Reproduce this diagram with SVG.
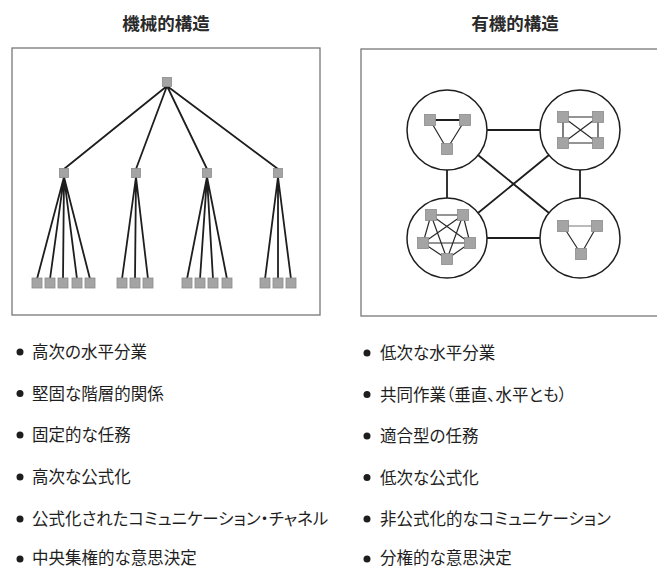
<svg xmlns="http://www.w3.org/2000/svg" width="657" height="569" viewBox="0 0 657 569">
<style>
.t{font-family:"Noto Sans CJK JP","Noto Sans CJK SC",sans-serif;fill:#1e1e1e}
.title{font-size:17.5px;text-anchor:middle;font-weight:bold;fill:#2a2a2a}
.item{font-size:16.5px;font-feature-settings:"palt"}
.frame{fill:none;stroke:#777;stroke-width:1.3}
.ln{stroke:#1e1e1e;stroke-width:1.8;fill:none}
.thin{stroke:#2a2a2a;stroke-width:1.2;fill:none}
.sq{fill:#a4a4a4;stroke:#8c8c8c;stroke-width:0.8}
.cir{fill:none;stroke:#1e1e1e;stroke-width:1.5}
.dot{fill:#1e1e1e}
</style>
<rect width="657" height="569" fill="#fff"/>

<text class="t title" x="166" y="29.5">機械的構造</text>
<text class="t title" x="515" y="29.5">有機的構造</text>

<rect class="frame" x="12" y="48" width="308" height="267"/>
<rect class="frame" x="361" y="49" width="300" height="267"/>

<g id="connectors">
  <!-- mechanistic tree -->
  <path class="ln" d="M167,86 L64,169 M167,86 L136,169 M167,86 L207,169 M167,86 L278,169"/>
  <path class="ln" d="M64,177 L37,279 M64,177 L50,279 M64,177 L63,279 M64,177 L77,279 M64,177 L90,279"/>
  <path class="ln" d="M136,177 L122,279 M136,177 L135,279 M136,177 L148,279"/>
  <path class="ln" d="M207,177 L187,279 M207,177 L200,279 M207,177 L213,279 M207,177 L227,279"/>
  <path class="ln" d="M278,177 L265,279 M278,177 L278,279 M278,177 L291,279"/>
  <!-- organic: between circles -->
  <path class="ln" d="M487,130 L540,130 M447,170 L447,198 M580,170 L580,198 M487,238 L540,238"/>
  <path class="ln" d="M478,155 L549,213 M549,155 L478,213"/>
  <!-- inside TL -->
  <path class="ln" d="M430,120 L465,120"/>
  <path class="thin" d="M430,120 L447,149 M465,120 L447,149"/>
  <!-- inside TR -->
  <path class="thin" d="M563,117 L598,117 L598,143 L563,143 Z M563,117 L598,143 M598,117 L563,143"/>
  <!-- inside BL pentagon, complete -->
  <path class="thin" d="M431,215 L463,215 M431,215 L423,243 M431,215 L470,243 M431,215 L447,259 M463,215 L423,243 M463,215 L470,243 M463,215 L447,259 M423,243 L470,243 M423,243 L447,259 M470,243 L447,259"/>
  <!-- inside BR -->
  <path class="thin" d="M563,226 L597,226" style="stroke:#666;stroke-width:0.9"/>
  <path class="thin" d="M563,226 L581,254 M597,226 L581,254"/>
</g>

<g id="top"><rect class="sq" x="162.5" y="77.5" width="9" height="9"/></g>
<g id="mid1"><rect class="sq" x="59.5" y="168.5" width="9" height="9"/></g>
<g id="mid2"><rect class="sq" x="131.5" y="168.5" width="9" height="9"/></g>
<g id="mid3"><rect class="sq" x="202.5" y="168.5" width="9" height="9"/></g>
<g id="mid4"><rect class="sq" x="273.5" y="168.5" width="9" height="9"/></g>
<g id="leaves1">
  <rect class="sq" x="32" y="278" width="10" height="10"/>
  <rect class="sq" x="45" y="278" width="10" height="10"/>
  <rect class="sq" x="58" y="278" width="10" height="10"/>
  <rect class="sq" x="72" y="278" width="10" height="10"/>
  <rect class="sq" x="85" y="278" width="10" height="10"/>
</g>
<g id="leaves2">
  <rect class="sq" x="117" y="278" width="10" height="10"/>
  <rect class="sq" x="130" y="278" width="10" height="10"/>
  <rect class="sq" x="143" y="278" width="10" height="10"/>
</g>
<g id="leaves3">
  <rect class="sq" x="182" y="278" width="10" height="10"/>
  <rect class="sq" x="195" y="278" width="10" height="10"/>
  <rect class="sq" x="208" y="278" width="10" height="10"/>
  <rect class="sq" x="222" y="278" width="10" height="10"/>
</g>
<g id="leaves4">
  <rect class="sq" x="260" y="278" width="10" height="10"/>
  <rect class="sq" x="273" y="278" width="10" height="10"/>
  <rect class="sq" x="286" y="278" width="10" height="10"/>
</g>

<g id="team-tl">
  <circle class="cir" cx="447" cy="130" r="40"/>
  <rect class="sq" x="424.5" y="114.5" width="11" height="11"/>
  <rect class="sq" x="459.5" y="114.5" width="11" height="11"/>
  <rect class="sq" x="441.5" y="143.5" width="11" height="11"/>
</g>
<g id="team-tr">
  <circle class="cir" cx="580" cy="130" r="40"/>
  <rect class="sq" x="557.5" y="111.5" width="11" height="11"/>
  <rect class="sq" x="592.5" y="111.5" width="11" height="11"/>
  <rect class="sq" x="557.5" y="137.5" width="11" height="11"/>
  <rect class="sq" x="592.5" y="137.5" width="11" height="11"/>
</g>
<g id="team-bl">
  <circle class="cir" cx="447" cy="238" r="40"/>
  <rect class="sq" x="425.5" y="209.5" width="11" height="11"/>
  <rect class="sq" x="457.5" y="209.5" width="11" height="11"/>
  <rect class="sq" x="417.5" y="237.5" width="11" height="11"/>
  <rect class="sq" x="464.5" y="237.5" width="11" height="11"/>
  <rect class="sq" x="441.5" y="253.5" width="11" height="11"/>
</g>
<g id="team-br">
  <circle class="cir" cx="580" cy="238" r="40"/>
  <rect class="sq" x="557.5" y="220.5" width="11" height="11"/>
  <rect class="sq" x="591.5" y="220.5" width="11" height="11"/>
  <rect class="sq" x="575.5" y="248.5" width="11" height="11"/>
</g>

<g id="list-left">
  <circle class="dot" cx="20" cy="352" r="3.5"/><text class="t item" x="32" y="358">高次の水平分業</text>
  <circle class="dot" cx="20" cy="393.5" r="3.5"/><text class="t item" x="32" y="399.5">堅固な階層的関係</text>
  <circle class="dot" cx="20" cy="435" r="3.5"/><text class="t item" x="32" y="441">固定的な任務</text>
  <circle class="dot" cx="20" cy="477" r="3.5"/><text class="t item" x="32" y="483">高次な公式化</text>
  <circle class="dot" cx="20" cy="519" r="3.5"/><text class="t item" x="32" y="525">公式化されたコミュニケーション・チャネル</text>
  <circle class="dot" cx="20" cy="559" r="3.5"/><text class="t item" x="32" y="564">中央集権的な意思決定</text>
</g>
<g id="list-right">
  <circle class="dot" cx="367" cy="353" r="3.5"/><text class="t item" x="380" y="359">低次な水平分業</text>
  <circle class="dot" cx="367" cy="394.5" r="3.5"/><text class="t item" x="380" y="400.5">共同作業（垂直、水平とも）</text>
  <circle class="dot" cx="367" cy="436" r="3.5"/><text class="t item" x="380" y="442">適合型の任務</text>
  <circle class="dot" cx="367" cy="477.5" r="3.5"/><text class="t item" x="380" y="483.5">低次な公式化</text>
  <circle class="dot" cx="367" cy="519" r="3.5"/><text class="t item" x="380" y="525">非公式化的なコミュニケーション</text>
  <circle class="dot" cx="367" cy="559" r="3.5"/><text class="t item" x="380" y="564">分権的な意思決定</text>
</g>
</svg>
